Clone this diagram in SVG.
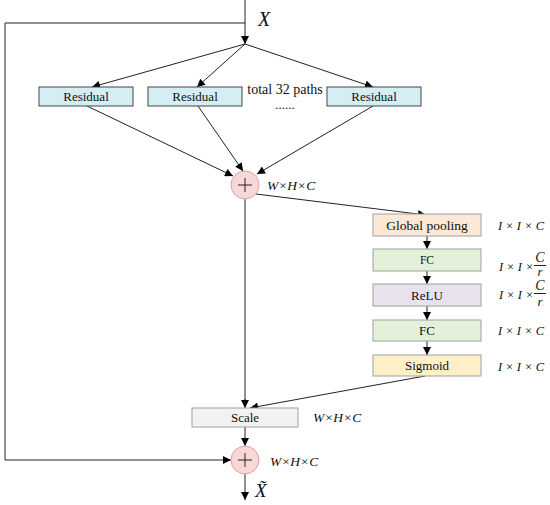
<svg xmlns="http://www.w3.org/2000/svg" width="550" height="505" viewBox="0 0 550 505">
<defs>
<marker id="ah" viewBox="0 0 10 10" refX="10" refY="5" markerWidth="9" markerHeight="8" markerUnits="userSpaceOnUse" orient="auto">
<path d="M0,0 L10,5 L0,10 z" fill="#000"/>
</marker>
</defs>
<style>
.bx{stroke:#a0a0a0;stroke-width:1}
.res{fill:#d4eef3;stroke:#444;stroke-width:1}
.c{fill:none;stroke:#222;stroke-width:1}
.a{marker-end:url(#ah)}
.sum{fill:#f8d8d6;stroke:#d9a6a3;stroke-width:1}
</style>
<rect width="550" height="505" fill="#fff"/>
<g id="connectors">
<path class="c a" d="M245,0 V44"/>
<path class="c" d="M245,23 H5 V460 H222"/>
<path class="c a" d="M222,460 H231"/>
<path class="c a" d="M245,44 L92,87"/>
<path class="c a" d="M245,44 L197,87"/>
<path class="c a" d="M245,44 L373,87"/>
<path class="c a" d="M87,106 L233,176"/>
<path class="c a" d="M198,106 L243,171"/>
<path class="c a" d="M373,106 L257,174"/>
<path class="c a" d="M256,194 L426,215"/>
<path class="c a" d="M427,236 V249"/>
<path class="c a" d="M427,271 V284"/>
<path class="c a" d="M427,306 V320"/>
<path class="c a" d="M427,341 V355"/>
<path class="c" d="M245,199 V400"/>
<path class="c a" d="M245,399 V408"/>
<path class="c a" d="M425,376 L250,408"/>
<path class="c a" d="M245,427 V446"/>
<path class="c a" d="M245,474 V500"/>
</g>
<g font-family="Liberation Serif, Times New Roman, serif" fill="#111">
<g id="X"><text x="258" y="26" font-style="italic" font-size="20">X</text></g>
<g id="res1" font-size="13" text-anchor="middle"><rect class="res" x="39" y="87" width="94" height="19"/><text x="86" y="101">Residual</text></g>
<g id="res2" font-size="13" text-anchor="middle"><rect class="res" x="148" y="87" width="94" height="19"/><text x="195" y="101">Residual</text></g>
<g id="res3" font-size="13" text-anchor="middle"><rect class="res" x="327" y="87" width="94" height="19"/><text x="374" y="101">Residual</text></g>
<g id="paths" text-anchor="middle"><text x="285" y="94" font-size="14">total 32 paths</text><text x="285" y="109" font-size="13">......</text></g>
<g id="sum1"><circle class="sum" cx="245" cy="185" r="14"/><path d="M238,185 H252 M245,178 V192" stroke="#222" stroke-width="1"/><text x="267" y="190" font-style="italic" font-size="13.5">W×H×C</text></g>
<g id="gp"><rect class="bx" x="373" y="214" width="108" height="22" fill="#fde8d6"/><text x="427" y="229.5" font-size="13.5" text-anchor="middle">Global pooling</text><text x="498" y="230" font-style="italic" font-size="12.5">I × I × C</text></g>
<g id="fc1"><rect class="bx" x="373" y="249" width="108" height="22" fill="#e3f0da"/><text x="427" y="264" font-size="11.5" text-anchor="middle">FC</text><text x="499" y="271" font-style="italic" font-size="12.5">I × I ×</text><text x="540" y="262" font-style="italic" font-size="14" text-anchor="middle">C</text><path d="M534,265.5 H546" stroke="#222"/><text x="540" y="276" font-style="italic" font-size="13" text-anchor="middle">r</text></g>
<g id="relu"><rect class="bx" x="373" y="284" width="108" height="22" fill="#e7e2ee"/><text x="427" y="299.5" font-size="13" text-anchor="middle">ReLU</text><text x="499" y="299" font-style="italic" font-size="12.5">I × I ×</text><text x="540" y="290" font-style="italic" font-size="14" text-anchor="middle">C</text><path d="M534,293.5 H546" stroke="#222"/><text x="540" y="306" font-style="italic" font-size="13" text-anchor="middle">r</text></g>
<g id="fc2"><rect class="bx" x="373" y="320" width="108" height="21" fill="#e3f0da"/><text x="427" y="335" font-size="13" text-anchor="middle">FC</text><text x="498" y="335" font-style="italic" font-size="12.5">I × I × C</text></g>
<g id="sig"><rect class="bx" x="373" y="355" width="108" height="21" fill="#fdf0c9"/><text x="427" y="370" font-size="13" text-anchor="middle">Sigmoid</text><text x="498" y="371" font-style="italic" font-size="12.5">I × I × C</text></g>
<g id="scale"><rect class="bx" x="192" y="408" width="106" height="19" fill="#f2f2f2"/><text x="245" y="422" font-size="13" text-anchor="middle">Scale</text><text x="313" y="422" font-style="italic" font-size="13.5">W×H×C</text></g>
<g id="sum2"><circle class="sum" cx="245" cy="460" r="14"/><path d="M238,460 H252 M245,453 V467" stroke="#222" stroke-width="1"/><text x="270" y="466" font-style="italic" font-size="13.5">W×H×C</text></g>
<g id="Xt"><text x="255" y="497" font-style="italic" font-size="19">X&#x303;</text></g>
</g>
</svg>
